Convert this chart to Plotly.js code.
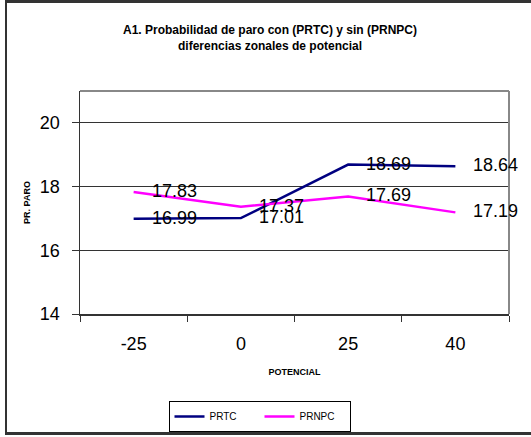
<!DOCTYPE html>
<html>
<head>
<meta charset="utf-8">
<script src="https://cdn.plot.ly/plotly-3.0.1.min.js"></script>
<style>
  html, body { margin: 0; padding: 0; background: #fff; }
  #chart { width: 531px; height: 437px; }
</style>
</head>
<body>
<div id="chart"></div>
<script>
// Category labels of the horizontal axis (potential differences)
const potencial = ['-25', '0', '25', '40'];
// Probability of stoppage with zonal potential differences
const prtc = [16.99, 17.01, 18.69, 18.64];
// Probability of stoppage without zonal potential differences
const prnpc = [17.83, 17.37, 17.69, 17.19];
const seriesNames = ['PRTC', 'PRNPC'];

const FONT = 'Liberation Sans, Arial, sans-serif';

// Plot-area box in pixels, used to place frame lines in paper units
const W = 531, H = 437;
const L = 80, R = 509, T = 91, B = 314;
const px = x => (x - L) / (R - L);
const py = y => (B - y) / (B - T);

const traces = [
  {
    x: potencial, y: prtc, name: seriesNames[0], type: 'scatter', mode: 'lines',
    line: { color: '#000080', width: 2.5 }
  },
  {
    x: potencial, y: prnpc, name: seriesNames[1], type: 'scatter', mode: 'lines',
    line: { color: '#FF00FF', width: 2.5 }
  }
];

// Value labels to the right of each point (x given as category index)
const annotations = [];
[prtc, prnpc].forEach(series => {
  series.forEach((v, i) => {
    annotations.push({
      x: i, y: v, xref: 'x', yref: 'y',
      text: v.toFixed(2), showarrow: false,
      xanchor: 'left', yanchor: 'middle', xshift: 16, yshift: 1,
      font: { family: FONT, size: 18, color: '#000' }
    });
  });
});

const shapes = [
  // outer chart border (left, top, bottom)
  { type: 'line', xref: 'paper', yref: 'paper', x0: px(6), x1: px(6), y0: py(0), y1: py(435),
    line: { color: '#333', width: 2 } },
  { type: 'line', xref: 'paper', yref: 'paper', x0: px(5), x1: px(W), y0: py(1.5), y1: py(1.5),
    line: { color: '#333', width: 3 } },
  { type: 'line', xref: 'paper', yref: 'paper', x0: px(5), x1: px(W), y0: py(433.5), y1: py(433.5),
    line: { color: '#333', width: 3 } },
  // plot area frame (top, right)
  { type: 'line', xref: 'paper', yref: 'paper', x0: 0, x1: 1, y0: 1, y1: 1,
    line: { color: '#888', width: 2 } },
  { type: 'line', xref: 'paper', yref: 'paper', x0: 1, x1: 1, y0: 0, y1: 1,
    line: { color: '#888', width: 2 } }
];

const layout = {
  width: W, height: H,
  margin: { l: L, r: W - R, t: T, b: H - B, pad: 0 },
  paper_bgcolor: '#fff',
  plot_bgcolor: '#fff',
  font: { family: FONT, color: '#000' },
  title: {
    text: 'A1. Probabilidad de paro con (PRTC) y sin (PRNPC)<br>diferencias zonales de potencial',
    font: { family: FONT, size: 12, weight: 'bold', color: '#000' },
    xref: 'container', yref: 'container',
    x: 270 / W, xanchor: 'center',
    y: 1 - 34 / H, yanchor: 'top'
  },
  xaxis: {
    type: 'category',
    categoryorder: 'array', categoryarray: potencial,
    range: [-0.5, 3.5],
    showgrid: false, zeroline: false,
    showline: true, linecolor: '#333', linewidth: 2,
    ticks: 'outside', tickson: 'boundaries', ticklen: 6, tickcolor: '#333', tickwidth: 1,
    tickfont: { family: FONT, size: 18, color: '#000' },
    ticklabelstandoff: 12,
    title: {
      text: 'POTENCIAL', standoff: 16,
      font: { family: FONT, size: 9, weight: 'bold', color: '#000' }
    }
  },
  yaxis: {
    range: [14, 21], tick0: 14, dtick: 2,
    showgrid: true, gridcolor: '#333', gridwidth: 1,
    zeroline: false,
    showline: true, linecolor: '#333', linewidth: 1.5,
    ticks: 'outside', ticklen: 7, tickcolor: '#333', tickwidth: 1,
    tickfont: { family: FONT, size: 18, color: '#000' },
    ticklabelstandoff: 8,
    title: {
      text: 'PR. PARO', standoff: 7,
      font: { family: FONT, size: 9, weight: 'bold', color: '#000' }
    }
  },
  showlegend: true,
  legend: {
    orientation: 'h',
    xref: 'container', yref: 'container',
    x: 259.5 / W, xanchor: 'center',
    y: 1 - 401 / H, yanchor: 'top',
    bgcolor: '#fff', bordercolor: '#000', borderwidth: 1,
    font: { family: FONT, size: 10, color: '#000' },
    itemwidth: 30, entrywidth: 45, tracegroupgap: 0
  },
  shapes: shapes,
  annotations: annotations
};

Plotly.newPlot('chart', traces, layout, { displayModeBar: false, staticPlot: true });
</script>
</body>
</html>
